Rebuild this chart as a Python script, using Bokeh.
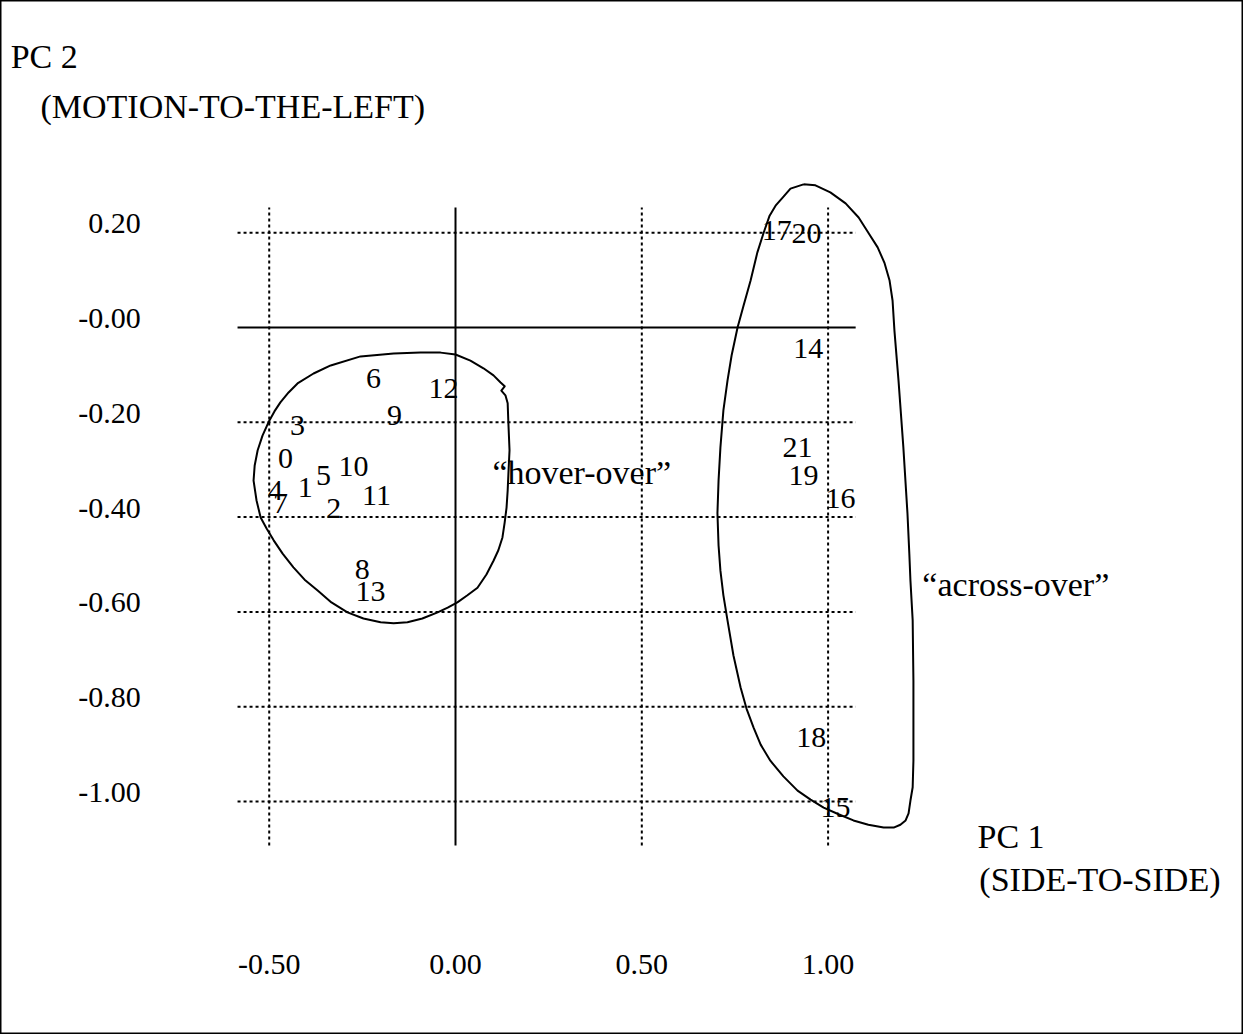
from bokeh.plotting import figure
from bokeh.models import ColumnDataSource, Range1d
from bokeh.core.properties import value
from bokeh.embed import file_html
from bokeh.resources import INLINE

# principal-component scores of the trials (PC 1, PC 2)
point_ids = ["0", "1", "2", "3", "4", "5", "6", "7", "8", "9", "10",
             "11", "12", "13", "14", "15", "16", "17", "18", "19", "20", "21"]
pc1 = [-0.456, -0.403, -0.327, -0.424, -0.483, -0.354, -0.220, -0.470, -0.250, -0.164, -0.274,
       -0.212, -0.032, -0.228, 0.947, 1.020, 1.033, 0.862, 0.955, 0.934, 0.942, 0.918]
pc2 = [-0.276, -0.338, -0.382, -0.207, -0.344, -0.312, -0.108, -0.371, -0.511, -0.186, -0.293,
       -0.354, -0.129, -0.557, -0.044, -1.013, -0.361, 0.205, -0.865, -0.312, 0.198, -0.253]

x_ticks = [-0.5, 0.0, 0.5, 1.0]
x_tick_labels = ["-0.50", "0.00", "0.50", "1.00"]
y_ticks = [0.2, 0.0, -0.2, -0.4, -0.6, -0.8, -1.0]
y_tick_labels = ["0.20", "-0.00", "-0.20", "-0.40", "-0.60", "-0.80", "-1.00"]

# outline drawn around the "hover-over" group
hover_x = [-0.335, -0.255, -0.166, -0.094, -0.040, 0.000, 0.040, 0.075, 0.102, 0.121,
           0.132, 0.123, 0.134, 0.140, 0.142, 0.145, 0.142, 0.140, 0.137, 0.132,
           0.126, 0.115, 0.102, 0.083, 0.059, 0.032, 0.005, -0.021, -0.048, -0.089,
           -0.129, -0.166, -0.201, -0.247, -0.290, -0.333, -0.370, -0.405, -0.435, -0.464,
           -0.488, -0.507, -0.523, -0.534, -0.542, -0.539, -0.531, -0.518, -0.502, -0.486,
           -0.470, -0.448, -0.424, -0.381, -0.335]
hover_y = [-0.080, -0.061, -0.055, -0.053, -0.053, -0.057, -0.070, -0.086, -0.101, -0.116,
           -0.124, -0.133, -0.143, -0.160, -0.203, -0.259, -0.308, -0.344, -0.380, -0.411,
           -0.443, -0.470, -0.492, -0.521, -0.549, -0.565, -0.580, -0.591, -0.601, -0.614,
           -0.622, -0.624, -0.622, -0.614, -0.601, -0.580, -0.555, -0.532, -0.506, -0.477,
           -0.449, -0.424, -0.401, -0.365, -0.323, -0.291, -0.259, -0.228, -0.200, -0.177,
           -0.158, -0.137, -0.118, -0.097, -0.080]

# outline drawn around the "across-over" group
across_x = [0.934, 0.966, 1.006, 1.047, 1.082, 1.108, 1.133, 1.151, 1.165, 1.173,
            1.178, 1.189, 1.202, 1.213, 1.218, 1.221, 1.227, 1.229, 1.229, 1.229,
            1.227, 1.221, 1.216, 1.208, 1.194, 1.176, 1.149, 1.108, 1.068, 1.028,
            0.988, 0.953, 0.918, 0.880, 0.845, 0.819, 0.800, 0.781, 0.765, 0.746,
            0.730, 0.719, 0.711, 0.706, 0.703, 0.706, 0.711, 0.719, 0.730, 0.741,
            0.757, 0.773, 0.792, 0.810, 0.827, 0.843, 0.859, 0.878, 0.899, 0.934]
across_y = [0.302, 0.300, 0.285, 0.262, 0.232, 0.200, 0.169, 0.137, 0.099, 0.057,
            -0.006, -0.112, -0.253, -0.392, -0.477, -0.534, -0.618, -0.745, -0.829, -0.914,
            -0.970, -0.998, -1.025, -1.040, -1.049, -1.055, -1.055, -1.049, -1.040, -1.027,
            -1.013, -0.996, -0.977, -0.947, -0.914, -0.880, -0.844, -0.804, -0.759, -0.692,
            -0.618, -0.565, -0.513, -0.460, -0.392, -0.323, -0.253, -0.175, -0.112, -0.059,
            0.000, 0.046, 0.099, 0.158, 0.200, 0.236, 0.257, 0.274, 0.293, 0.302]

# extent of the grid lines
grid_x0, grid_x1 = -0.585, 1.074
grid_y0, grid_y1 = -1.093, 0.253

SERIF = value("Liberation Serif")
NUM_SIZE = "30px"
WORD_SIZE = "34px"
BASE_SHIFT = -9  # lift baselines a little

p = figure(width=1243, height=1034, output_backend="svg", toolbar_location=None,
           x_range=Range1d(-1.2212, 2.1149), y_range=Range1d(-1.4916, 0.6899),
           min_border=0)
p.axis.visible = False
p.grid.visible = False
p.background_fill_color = "white"
p.border_fill_color = "white"
p.outline_line_color = "black"
p.outline_line_width = 2

# dotted grid
vx = [t for t in x_ticks if t != 0.0]
p.segment(x0=vx, y0=[grid_y0] * len(vx), x1=vx, y1=[grid_y1] * len(vx),
          line_color="black", line_width=2, line_dash="3 3")
hy = [t for t in y_ticks if t != 0.0]
p.segment(x0=[grid_x0] * len(hy), y0=hy, x1=[grid_x1] * len(hy), y1=hy,
          line_color="black", line_width=2, line_dash="3 3")

# solid zero axes
p.segment(x0=[grid_x0, 0.0], y0=[0.0, grid_y0], x1=[grid_x1, 0.0], y1=[0.0, grid_y1],
          line_color="black", line_width=2)

# group outlines
p.line(hover_x, hover_y, line_color="black", line_width=2, line_join="round")
p.line(across_x, across_y, line_color="black", line_width=2, line_join="round")

# trial numbers
src = ColumnDataSource(dict(x=pc1, y=pc2, t=point_ids))
p.text(x="x", y="y", text="t", source=src, text_font=SERIF, text_font_size=NUM_SIZE,
       text_align="center", text_baseline="middle", text_color="black")

# tick labels
p.text(x=[-0.845] * len(y_ticks), y=y_ticks, text=y_tick_labels, text_font=SERIF,
       text_font_size=NUM_SIZE, text_align="right", text_baseline="alphabetic",
       y_offset=BASE_SHIFT)
p.text(x=x_ticks, y=[-1.363] * len(x_ticks), text=x_tick_labels, text_font=SERIF,
       text_font_size=NUM_SIZE, text_align="center", text_baseline="alphabetic",
       y_offset=BASE_SHIFT)

# axis titles and group names
p.text(x=[-1.194, -1.114, 1.401, 1.406, 0.099, 1.253],
       y=[0.553, 0.447, -1.093, -1.184, -0.325, -0.561],
       text=["PC 2", "(MOTION-TO-THE-LEFT)", "PC 1", "(SIDE-TO-SIDE)",
             "\u201chover-over\u201d", "\u201cacross-over\u201d"],
       text_font=SERIF, text_font_size=WORD_SIZE, text_align="left",
       text_baseline="alphabetic", text_color="black", y_offset=BASE_SHIFT)

open("out.html", "w").write(file_html(p, INLINE))
